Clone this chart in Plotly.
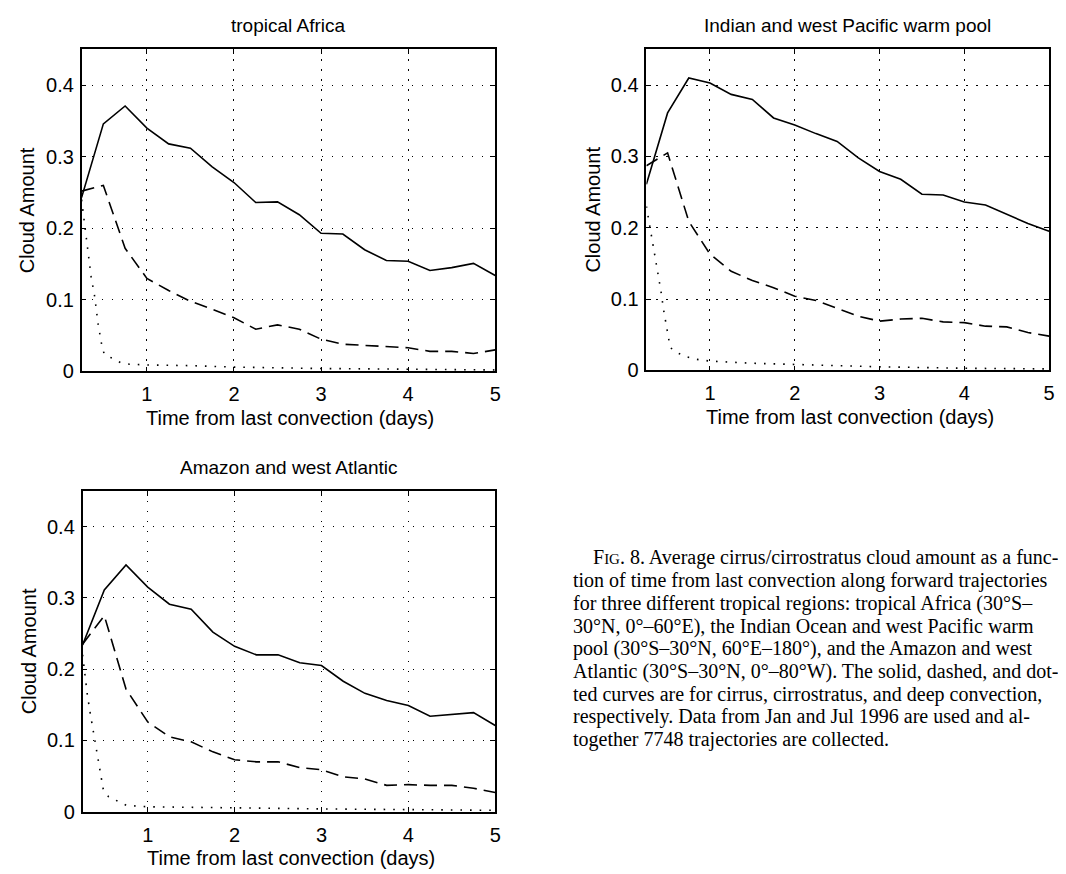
import plotly.graph_objects as go

# temps depuis la dernière convection (jours), pas de 0.25 j
jours = [0.25, 0.5, 0.75, 1.0, 1.25, 1.5, 1.75, 2.0, 2.25, 2.5,
         2.75, 3.0, 3.25, 3.5, 3.75, 4.0, 4.25, 4.5, 4.75, 5.0]

# tropical Africa
afr_cirrus = [0.243, 0.346, 0.371, 0.340, 0.318, 0.312, 0.286, 0.264, 0.236, 0.237,
              0.219, 0.193, 0.192, 0.170, 0.155, 0.154, 0.141, 0.145, 0.151, 0.134]
afr_cirrostratus = [0.252, 0.260, 0.172, 0.130, 0.113, 0.098, 0.087, 0.075, 0.059, 0.065,
                    0.059, 0.045, 0.038, 0.036, 0.035, 0.033, 0.028, 0.028, 0.025, 0.030]
afr_deep_x = [0.25, 0.30, 0.36, 0.40, 0.44, 0.48, 0.51, 0.59, 0.70, 0.80,
              1.0, 1.5, 2.0, 3.0, 4.0, 5.0]
afr_deep = [0.240, 0.188, 0.132, 0.105, 0.066, 0.038, 0.024, 0.019, 0.012, 0.010,
            0.009, 0.008, 0.006, 0.004, 0.003, 0.002]

# Indian and west Pacific warm pool
ind_cirrus = [0.261, 0.361, 0.410, 0.403, 0.387, 0.380, 0.354, 0.344, 0.332, 0.321,
              0.298, 0.279, 0.268, 0.247, 0.246, 0.236, 0.232, 0.219, 0.206, 0.195]
ind_cirrostratus = [0.287, 0.305, 0.209, 0.163, 0.139, 0.126, 0.116, 0.104, 0.098, 0.087,
                    0.076, 0.069, 0.072, 0.073, 0.068, 0.067, 0.062, 0.061, 0.053, 0.048]
ind_deep_x = [0.25, 0.305, 0.344, 0.382, 0.422, 0.453, 0.493, 0.531, 0.617, 0.727,
              0.833, 1.0, 1.5, 2.0, 3.0, 4.0, 5.0]
ind_deep = [0.230, 0.193, 0.166, 0.139, 0.111, 0.085, 0.059, 0.032, 0.0245, 0.019,
            0.0156, 0.013, 0.010, 0.008, 0.005, 0.003, 0.002]

# Amazon and west Atlantic
ama_cirrus = [0.234, 0.311, 0.346, 0.315, 0.291, 0.284, 0.252, 0.232, 0.220, 0.220,
              0.209, 0.205, 0.183, 0.166, 0.156, 0.149, 0.134, 0.136, 0.139, 0.121]
ama_cirrostratus = [0.235, 0.275, 0.172, 0.126, 0.105, 0.098, 0.084, 0.073, 0.070, 0.070,
                    0.062, 0.059, 0.049, 0.046, 0.037, 0.038, 0.037, 0.037, 0.033, 0.027]
ama_deep_x = [0.25, 0.276, 0.304, 0.338, 0.376, 0.414, 0.453, 0.49, 0.55, 0.65,
              0.754, 1.0, 1.5, 2.0, 3.0, 4.0, 5.0]
ama_deep = [0.220, 0.191, 0.165, 0.138, 0.112, 0.084, 0.057, 0.030, 0.021, 0.015,
            0.009, 0.007, 0.006, 0.005, 0.004, 0.003, 0.002]

x_ticks = [1, 2, 3, 4, 5]
y_ticks = [0, 0.1, 0.2, 0.3, 0.4]
y_ticktext = ["0", "0.1", "0.2", "0.3", "0.4"]

titres = ["tropical Africa", "Indian and west Pacific warm pool", "Amazon and west Atlantic"]
x_label = "Time from last convection (days)"
y_label = "Cloud Amount"

legende = [
    "F<span style='font-size:15px'>IG</span>. 8. Average cirrus/cirrostratus cloud amount as a func-",
    "tion of time from last convection along forward trajectories",
    "for three different tropical regions: tropical Africa (30°S–",
    "30°N, 0°–60°E), the Indian Ocean and west Pacific warm",
    "pool (30°S–30°N, 60°E–180°), and the Amazon and west",
    "Atlantic (30°S–30°N, 0°–80°W). The solid, dashed, and dot-",
    "ted curves are for cirrus, cirrostratus, and deep convection,",
    "respectively. Data from Jan and Jul 1996 are used and al-",
    "together 7748 trajectories are collected.",
]

W, H = 1066, 874
SANS = "Liberation Sans, Arial, sans-serif"
SERIF = "Liberation Serif, Times New Roman, serif"


def px(x):
    return x / W


def py(y):
    return 1 - y / H


# boîtes des axes en pixels : (gauche, droite, haut, bas)
boites = [(74, 490, 42, 368), (642, 1047, 42, 367), (75, 490, 489, 814)]
series = [
    (afr_cirrus, afr_cirrostratus, afr_deep_x, afr_deep),
    (ind_cirrus, ind_cirrostratus, ind_deep_x, ind_deep),
    (ama_cirrus, ama_cirrostratus, ama_deep_x, ama_deep),
]

fig = go.Figure()
annotations = []

for i, ((g, d, h, b), (cir, cst, dx, dp)) in enumerate(zip(boites, series)):
    n = "" if i == 0 else str(i + 1)
    xa, ya = "x" + n, "y" + n
    fig.add_trace(go.Scatter(x=jours, y=cir, mode="lines", xaxis=xa, yaxis=ya,
                             line=dict(color="black", width=1.6), showlegend=False))
    fig.add_trace(go.Scatter(x=jours, y=cst, mode="lines", xaxis=xa, yaxis=ya,
                             line=dict(color="black", width=1.6, dash="13px,7px"),
                             showlegend=False))
    fig.add_trace(go.Scatter(x=dx, y=dp, mode="lines", xaxis=xa, yaxis=ya,
                             line=dict(color="black", width=1.6, dash="1.6px,8px"),
                             showlegend=False))

    commun = dict(showline=True, linecolor="black", linewidth=1.5, mirror="allticks",
                  ticks="inside", ticklen=5, tickcolor="black", tickwidth=1,
                  showgrid=True, gridcolor="black", gridwidth=1, griddash="1.5px,8.5px",
                  zeroline=False, tickfont=dict(family=SANS, size=20, color="black"))
    fig.update_layout({
        "xaxis" + n: dict(commun, domain=[px(g), px(d)], range=[0.25, 5],
                          tickvals=x_ticks, anchor=ya, ticklabelstandoff=4),
        "yaxis" + n: dict(commun, domain=[py(b), py(h)], range=[0, 0.45],
                          tickvals=y_ticks, ticktext=y_ticktext, anchor=xa,
                          ticklabelstandoff=2),
    })

    cx = (g + d) / 2
    annotations.append(dict(text=titres[i], x=px(cx), y=py(h - 24), xanchor="center",
                            yanchor="middle", font=dict(family=SANS, size=19)))
    annotations.append(dict(text=x_label, x=px(cx + 2), y=py(b + 47), xanchor="center",
                            yanchor="middle", font=dict(family=SANS, size=20)))
    annotations.append(dict(text=y_label, x=px(g - 54), y=py((h + b) / 2), textangle=-90,
                            xanchor="center", yanchor="middle",
                            font=dict(family=SANS, size=20)))

# légende de la figure (texte de l'article)
for k, ligne in enumerate(legende):
    annotations.append(dict(text=ligne, x=px(586 if k == 0 else 566), y=py(557 + 23 * k),
                            xanchor="left", yanchor="middle", align="left",
                            font=dict(family=SERIF, size=20)))

for a in annotations:
    a.update(xref="paper", yref="paper", showarrow=False)
    a.setdefault("font", {}).setdefault("color", "black")

fig.update_layout(width=W, height=H, margin=dict(l=0, r=0, t=0, b=0),
                  paper_bgcolor="white", plot_bgcolor="white",
                  annotations=annotations, showlegend=False)

fig.write_html("out.html")
